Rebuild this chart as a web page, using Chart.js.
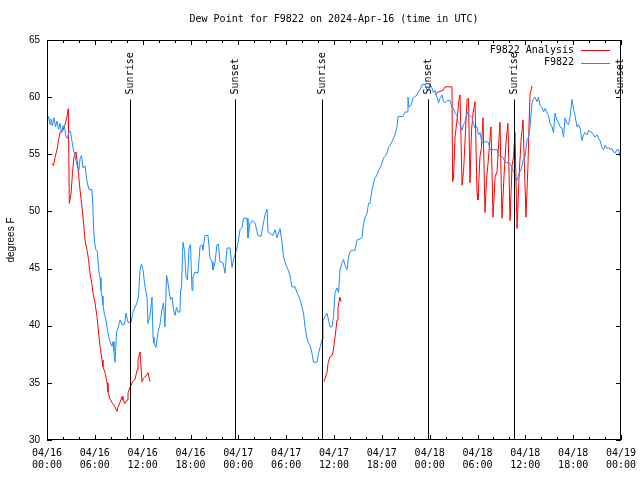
<!DOCTYPE html>
<html>
<head>
<meta charset="utf-8">
<title>Dew Point for F9822</title>
<script src="https://cdn.jsdelivr.net/npm/chart.js@4.4.1/dist/chart.umd.min.js"></script>
<style>
    html, body { margin: 0; padding: 0; background: #fff; }
    #wrap { width: 640px; height: 480px; }
</style>
</head>
<body>
<div id="wrap"><canvas id="dewChart" width="640" height="480"></canvas></div>
<script>
// Hours since 2024-04-16 00:00 UTC
const obsHours = [
    0, 0.19, 0.38, 0.50, 0.69, 0.88, 1.07, 1.25, 1.44, 1.63, 1.82, 2.01, 2.20, 2.38, 2.57, 2.76, 2.95,
    3.14, 3.32, 3.51, 3.76, 4.01, 4.14, 4.33, 4.52, 4.77, 5.02, 5.27, 5.64, 5.75, 5.83, 5.96, 6.15,
    6.33, 6.46, 6.65, 6.77, 6.90, 7.02, 7.21, 7.40, 7.59, 7.78, 7.97, 8.15, 8.28, 8.40, 8.53, 8.72,
    8.91, 9.16, 9.41, 9.72, 9.91, 10.16, 10.54, 10.79, 11.04, 11.29, 11.48, 11.67, 11.85, 12.04, 12.29,
    12.54, 12.67, 12.92, 13.17, 13.30, 13.42, 13.67, 13.92, 14.17, 14.43, 14.61, 14.80, 14.99, 15.12,
    15.30, 15.49, 15.68, 15.87, 16.06, 16.24, 16.43, 16.68, 16.75, 16.87, 17.06, 17.25, 17.44, 17.62,
    17.81, 18.00, 18.19, 18.31, 18.57, 18.94, 19.19, 19.44, 19.57, 19.82, 20.20, 20.45, 20.70, 20.82,
    21.07, 21.32, 21.51, 21.70, 22.08, 22.33, 22.58, 22.96, 23.21, 23.39, 23.58, 23.83, 24.02, 24.21,
    24.46, 24.65, 25.09, 25.21, 25.46, 25.84, 26.09, 26.47, 26.84, 27.10, 27.35, 27.60, 27.73, 28.35,
    28.60, 28.85, 29.23, 29.48, 29.67, 29.98, 30.23, 30.48, 30.73, 31.11, 31.36, 31.74, 31.99, 32.18,
    32.36, 32.61, 32.80, 32.99, 33.24, 33.43, 33.87, 34.06, 34.25, 34.50, 34.62, 34.87, 35.12, 35.50,
    35.75, 35.94, 36.13, 36.38, 36.57, 36.75, 37.00, 37.19, 37.38, 37.63, 37.82, 38.01, 38.26, 38.64,
    38.89, 39.26, 39.51, 39.64, 39.89, 40.14, 40.33, 40.51, 40.77, 40.96, 41.14, 41.40, 41.58, 41.77,
    42.02, 42.21, 42.40, 42.65, 42.84, 43.03, 43.28, 43.65, 43.90, 44.03, 44.28, 44.66, 44.91, 45.16,
    45.28, 45.41, 45.66, 45.91, 46.41, 46.60, 46.79, 47.04, 47.42, 47.67, 47.86, 48.04, 48.29, 48.48,
    48.67, 48.92, 49.11, 49.30, 49.55, 49.74, 49.93, 50.18, 50.55, 50.80, 50.99, 51.18, 51.43, 51.56,
    51.81, 52.06, 52.25, 52.43, 52.69, 52.87, 53.06, 53.31, 53.50, 53.69, 53.94, 54.13, 54.32, 54.57,
    54.94, 55.19, 55.38, 55.57, 56.20, 56.45, 56.64, 56.82, 57.20, 57.45, 58.08, 58.33, 58.52, 58.71,
    58.89, 59.08, 59.33, 59.52, 59.71, 59.96, 60.21, 60.40, 60.59, 60.84, 61.03, 61.21, 61.47, 61.65,
    61.84, 62.09, 62.28, 62.47, 62.72, 62.91, 63.10, 63.35, 63.54, 63.72, 63.97, 64.16, 64.35, 64.60,
    64.79, 64.98, 65.23, 65.42, 65.61, 65.86, 66.05, 66.23, 66.48, 66.67, 66.86, 67.11, 67.30, 67.49,
    67.74, 67.93, 68.12, 68.37, 68.55, 68.74, 68.99, 69.18, 69.37, 69.62, 69.81, 70.00, 70.25, 70.44,
    70.62, 70.87, 71.06, 71.25, 71.50, 71.69, 71.88
];
const obsDewpt = [
    57.9, 58.3, 57.6, 58.1, 57.5, 58.2, 57.4, 57.9, 57.2, 57.7, 56.9, 57.5, 57.4, 56.5, 56.4, 57.0, 57.0,
    56.1, 55.4, 54.9, 54.1, 53.6, 54.6, 54.9, 53.8, 54.0, 52.6, 51.9, 51.9, 50.5, 48.8, 47.3, 46.6,
    46.5, 45.0, 44.2, 43.1, 42.6, 41.8, 41.0, 40.5, 39.6, 38.9, 38.5, 38.2, 38.6, 37.8, 36.8, 39.4,
    39.8, 40.5, 40.1, 40.1, 41.1, 40.3, 40.3, 41.2, 41.6, 42.0, 42.6, 44.9, 45.4, 44.9, 43.4,
    42.5, 40.2, 40.9, 42.5, 39.0, 38.5, 38.1, 39.4, 40.1, 41.4, 42.0, 39.9, 44.4, 44.0,
    43.1, 42.3, 42.5, 41.4, 40.9, 41.6, 41.2, 41.2, 43.0, 43.4, 47.3, 46.5, 44.3, 44.0,
    46.8, 47.1, 43.1, 44.3, 44.7, 44.6, 46.9, 47.1, 46.6, 47.9, 47.9, 45.9, 45.6, 44.9,
    45.5, 47.1, 47.1, 45.6, 45.5, 44.6, 46.8, 46.8, 45.1, 45.8, 46.2, 46.8, 47.5, 48.4,
    48.6, 49.4, 49.4, 47.7, 49.0, 49.2, 49.0, 47.9, 47.8, 48.8, 49.7, 50.2, 48.2, 47.9,
    48.4, 47.7, 48.5, 47.3, 46.0, 45.3, 44.9, 44.4, 43.4, 43.4, 42.9, 42.3, 41.6, 41.1,
    39.9, 38.9, 38.5, 38.3, 37.6, 36.8, 36.8, 37.6, 38.1, 38.8, 40.5, 40.8, 41.1, 39.9,
    39.9, 40.8, 42.9, 43.3, 42.9, 44.9, 45.5, 45.8, 45.3, 44.9, 46.0, 46.5, 46.6, 46.6,
    47.5, 47.6, 47.7, 48.6, 49.5, 49.8, 50.7, 50.7, 51.9, 52.5, 52.9, 53.2, 53.6, 53.8,
    54.2, 54.7, 54.8, 55.1, 55.6, 55.8, 56.1, 56.7, 57.4, 58.3, 58.3, 58.3, 58.7, 58.7,
    60.0, 59.1, 59.3, 59.9, 60.2, 60.5, 60.6, 61.1, 61.1, 60.6, 60.6, 61.1, 60.8, 60.4,
    60.6, 60.0, 59.5, 59.9, 60.2, 59.6, 59.5, 59.7, 59.7, 59.1, 59.0, 58.6, 58.4, 57.8,
    57.6, 57.1, 57.6, 57.8, 58.7, 58.4, 58.4, 58.2, 57.7, 57.3, 57.4, 56.7, 56.9, 56.0,
    56.1, 56.1, 56.0, 55.4, 55.4, 55.4, 54.9, 54.9, 54.7, 54.3, 54.2, 53.8, 53.5, 53.2,
    52.6, 53.0, 53.5, 53.8, 54.5, 54.7, 56.2, 56.5, 57.4, 59.5, 59.9, 60.0, 59.6, 60.0,
    59.3, 59.1, 58.7, 59.0, 58.6, 58.4, 57.7, 57.4, 56.9, 58.6, 58.0, 57.8, 57.4, 57.3,
    56.5, 58.2, 57.7, 57.6, 58.3, 59.8, 58.9, 58.4, 57.4, 57.6, 57.3, 56.2, 56.7, 56.9,
    56.7, 57.1, 57.0, 56.9, 56.7, 56.5, 56.7, 56.4, 56.2, 55.6, 55.4, 55.8, 55.5, 55.6,
    55.4, 55.5, 55.2, 55.1, 55.4, 55.4, 54.8
];

// Analysis series, null marks a gap between runs
const anaHours = [
    0.63, 0.82, 1.00, 1.25, 1.44, 1.63, 1.94, 2.26, 2.51, 2.67, 2.80, 3.01, 3.20, 3.39, 3.64, 3.89,
    4.14, 4.39, 4.58, 4.77, 5.02, 5.21, 5.39, 5.64, 5.77, 6.02, 6.27, 6.40, 6.65, 6.90, 7.02, 7.28,
    7.53, 7.65, 7.90, 8.22, 8.53, 8.78, 8.91, 9.16, 9.41, 9.53, 9.78, 10.04, 10.16, 10.41, 10.73,
    11.04, 11.29, 11.41, 11.67, 11.92, 12.10, 12.54, 12.67, 12.92,
    20,
    34.75, 35.12, 35.25, 35.50, 35.75, 35.88, 36.13, 36.38, 36.50, 36.75, 36.88,
    42,
    48.67, 48.92, 49.30, 49.67, 49.93, 50.80, 50.87, 50.99, 51.18, 51.43, 51.68, 51.81, 52.06, 52.25,
    52.44, 52.69, 52.87, 53.06, 53.25, 53.44, 53.69, 53.94, 54.06, 54.31, 54.50, 54.69, 54.94, 55.13,
    55.32, 55.69, 55.95, 56.20, 56.45, 56.82, 57.07, 57.32, 57.57, 57.82, 58.08, 58.33, 58.52, 58.70,
    58.96, 59.21, 59.46, 59.71, 60.08, 60.33, 60.46, 60.59, 60.84, 60.96
];
const anaDewpt = [
    54.2, 54.0, 54.7, 55.4, 56.2, 56.9, 57.0, 57.6, 58.3, 59.0, 50.7, 51.5, 53.4, 54.8, 55.2, 53.8,
    51.9, 50.4, 49.0, 47.5, 46.6, 45.8, 44.6, 43.6, 42.9, 42.0, 40.8, 39.9, 38.2, 37.0, 36.4, 35.9,
    35.0, 34.2, 33.6, 33.2, 32.9, 32.5, 32.9, 33.3, 33.8, 33.5, 33.2, 33.5, 34.1, 34.6, 35.1,
    35.3, 36.1, 37.0, 37.7, 35.1, 35.4, 35.7, 35.9, 35.1,
    null,
    35.1, 35.9, 36.7, 37.3, 37.4, 37.7, 39.0, 40.5, 41.6, 42.5, 42.1,
    null,
    60.2, 60.4, 60.5, 60.6, 60.9, 60.9, 52.6, 52.9, 56.5, 58.0, 59.8, 60.2, 52.3, 53.5,
    56.2, 59.8, 59.9, 52.5, 57.1, 58.6, 59.6, 51.6, 51.0, 54.8, 55.6, 58.2, 49.9, 52.8,
    54.2, 57.4, 49.5, 53.0, 53.5, 57.8, 49.4, 53.0, 56.0, 57.7, 49.2, 54.0, 54.8, 56.9,
    48.5, 53.0, 56.2, 58.0, 49.5, 54.0, 57.5, 60.2, 61.0, 61.0
];

const sunHours = [10.41, 23.63, 34.53, 47.74, 58.55, 71.85];
const sunLabels = ['Sunrise', 'Sunset', 'Sunrise', 'Sunset', 'Sunrise', 'Sunset'];

const dayLabels = ['04/16', '04/16', '04/16', '04/16', '04/17', '04/17', '04/17', '04/17',
    '04/18', '04/18', '04/18', '04/18', '04/19'];
const timeLabels = ['00:00', '06:00', '12:00', '18:00'];

const MONO = "'DejaVu Sans Mono', monospace";
const SANS = "'Liberation Sans', Arial, sans-serif";

function toPoints(xs, ys) {
    return xs.map((h, i) => ({ x: h, y: ys[i] }));
}

// Border, inward ticks, sunrise/sunset markers and key, gnuplot style
const framePlugin = {
    id: 'frame',
    afterDatasetsDraw(chart) {
        const ctx = chart.ctx;
        const a = chart.chartArea;
        const xs = chart.scales.x;
        const ys = chart.scales.y;
        ctx.save();
        ctx.strokeStyle = '#000';
        ctx.lineWidth = 1;
        ctx.strokeRect(a.left + 0.5, a.top + 0.5, a.right - a.left - 1, a.bottom - a.top - 1);

        ctx.beginPath();
        for (let h = 0; h <= 72; h += 2) {
            const px = Math.round(xs.getPixelForValue(h)) + 0.5;
            const len = h % 6 === 0 ? 5 : 3;
            ctx.moveTo(px, a.bottom);
            ctx.lineTo(px, a.bottom - len);
            ctx.moveTo(px, a.top);
            ctx.lineTo(px, a.top + len);
        }
        for (let v = 30; v <= 65; v += 5) {
            const py = Math.round(ys.getPixelForValue(v)) + 0.5;
            ctx.moveTo(a.left, py);
            ctx.lineTo(a.left + 5, py);
            ctx.moveTo(a.right, py);
            ctx.lineTo(a.right - 5, py);
        }
        ctx.stroke();

        // sunrise / sunset lines
        const lineTop = ys.getPixelForValue(59.8);
        ctx.font = '10px ' + MONO;
        ctx.fillStyle = '#000';
        sunHours.forEach((h, i) => {
            const px = Math.round(xs.getPixelForValue(h)) + 0.5;
            ctx.beginPath();
            ctx.moveTo(px, lineTop);
            ctx.lineTo(px, a.bottom);
            ctx.stroke();
            ctx.save();
            ctx.translate(px, lineTop - 5);
            ctx.rotate(-Math.PI / 2);
            ctx.textAlign = 'left';
            ctx.textBaseline = 'middle';
            ctx.fillText(sunLabels[i], 0, 0);
            ctx.restore();
        });

        // key
        const keyOrder = [0, 1];
        ctx.textAlign = 'right';
        ctx.textBaseline = 'middle';
        keyOrder.forEach((d, row) => {
            const ds = chart.data.datasets[d];
            const ky = a.top + 10 + row * 12.5;
            ctx.fillStyle = '#000';
            ctx.fillText(ds.label, a.right - 47, ky);
            ctx.strokeStyle = ds.borderColor;
            ctx.beginPath();
            ctx.moveTo(a.right - 40, Math.round(ky) + 0.5);
            ctx.lineTo(a.right - 11, Math.round(ky) + 0.5);
            ctx.stroke();
        });
        ctx.restore();
    }
};

function createDewPointChart() {
    const ctx = document.getElementById('dewChart').getContext('2d');
    new Chart(ctx, {
        type: 'line',
        data: {
            datasets: [{
                label: 'F9822 Analysis',
                data: toPoints(anaHours, anaDewpt),
                borderColor: '#ff0000',
                borderWidth: 1,
                pointRadius: 0,
                tension: 0,
                spanGaps: false,
                order: 1
            }, {
                label: 'F9822',
                data: toPoints(obsHours, obsDewpt),
                borderColor: '#1e8cff',
                borderWidth: 1,
                pointRadius: 0,
                tension: 0,
                order: 0
            }]
        },
        options: {
            responsive: false,
            animation: false,
            devicePixelRatio: 1,
            layout: { padding: { left: 0, right: 19, top: 0, bottom: 0 } },
            plugins: {
                legend: { display: false },
                tooltip: { enabled: false },
                title: {
                    display: true,
                    fullSize: false,
                    text: 'Dew Point for F9822 on 2024-Apr-16 (time in UTC)',
                    color: '#000',
                    font: { family: MONO, size: 10, weight: 'normal', lineHeight: 1.2 },
                    padding: { top: 13, bottom: 15 }
                }
            },
            scales: {
                x: {
                    type: 'linear',
                    min: 0,
                    max: 72,
                    grid: { display: false, drawTicks: false },
                    border: { display: false },
                    ticks: {
                        stepSize: 6,
                        autoSkip: false,
                        maxRotation: 0,
                        padding: 7,
                        color: '#000',
                        font: { family: MONO, size: 10, lineHeight: 1.2 },
                        callback: (v) => [dayLabels[v / 6], timeLabels[(v / 6) % 4]]
                    },
                    afterFit: (scale) => {
                        scale.height = 40;
                        scale.paddingLeft = 0;
                        scale.paddingRight = 0;
                    }
                },
                y: {
                    min: 30,
                    max: 65,
                    grid: { display: false, drawTicks: false },
                    border: { display: false },
                    ticks: {
                        stepSize: 5,
                        padding: 7,
                        color: '#000',
                        font: { family: SANS, size: 10 }
                    },
                    title: {
                        display: true,
                        text: 'degrees F',
                        color: '#000',
                        font: { family: SANS, size: 10 },
                        padding: { top: 5, bottom: 0 }
                    },
                    afterFit: (scale) => { scale.width = 47; }
                }
            }
        },
        plugins: [framePlugin]
    });
}

document.addEventListener('DOMContentLoaded', createDewPointChart);
</script>
</body>
</html>
